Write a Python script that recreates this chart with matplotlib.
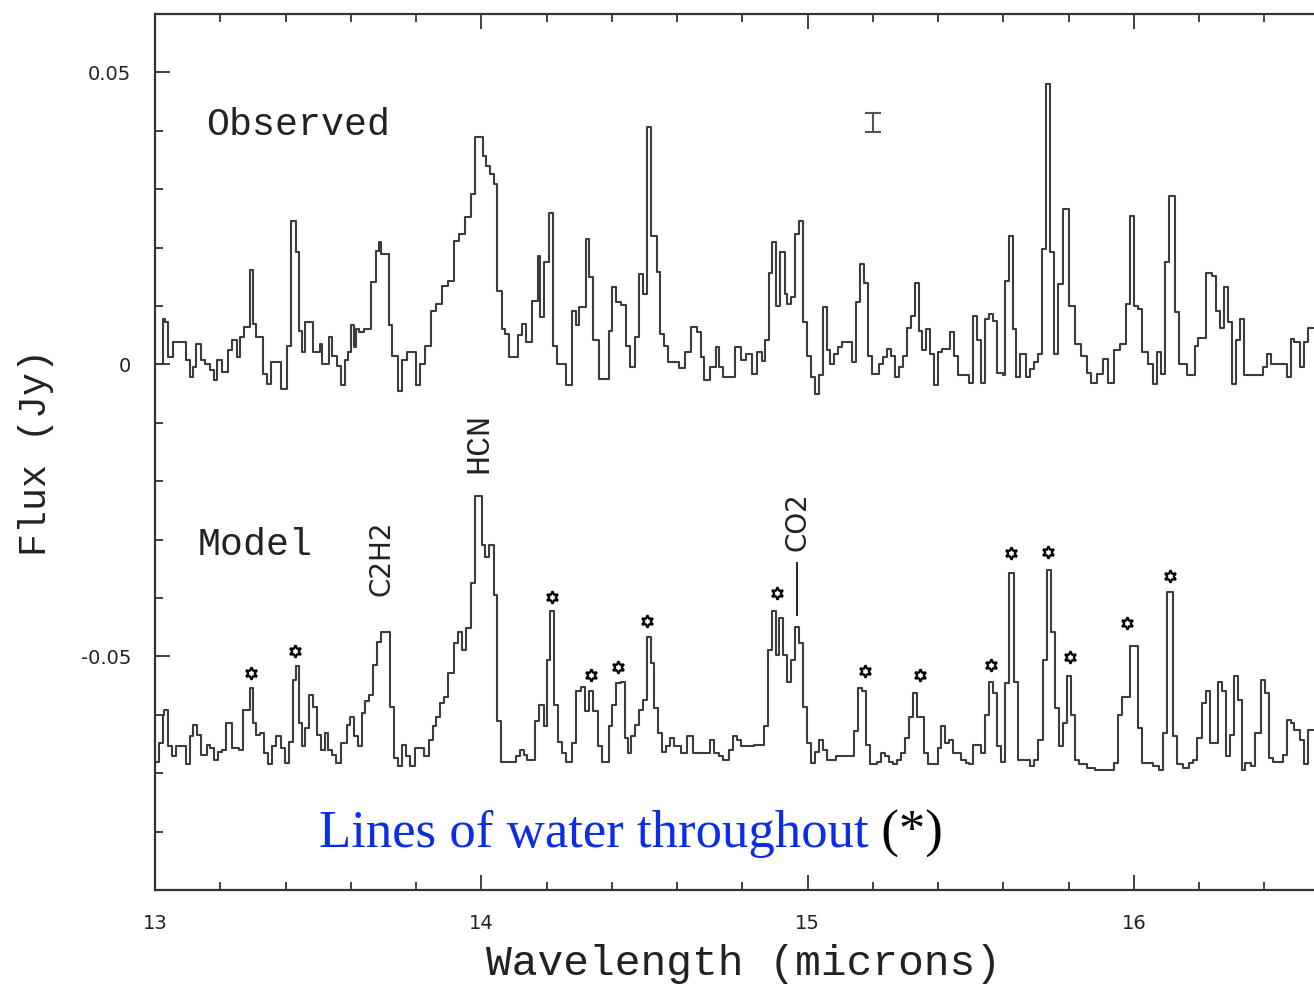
import numpy as np
import matplotlib
matplotlib.use('Agg')
import matplotlib.pyplot as plt
from matplotlib.ticker import MultipleLocator, FixedLocator, FixedFormatter

# observed spectrum: step starts (microns) and flux (mJy)
obs_wl = [13.000, 13.024, 13.032, 13.041, 13.055, 13.094, 13.106, 13.117, 13.126, 13.141,
          13.153, 13.170, 13.182, 13.191, 13.205, 13.223, 13.235, 13.252, 13.262, 13.273,
          13.290, 13.299, 13.311, 13.332, 13.344, 13.356, 13.387, 13.405, 13.416, 13.431,
          13.440, 13.452, 13.461, 13.485, 13.505, 13.513, 13.534, 13.543, 13.557, 13.569,
          13.581, 13.592, 13.602, 13.610, 13.616, 13.625, 13.639, 13.663, 13.677, 13.686,
          13.693, 13.716, 13.727, 13.745, 13.757, 13.771, 13.801, 13.813, 13.827, 13.845,
          13.862, 13.880, 13.897, 13.915, 13.933, 13.950, 13.968, 13.980, 14.005, 14.015,
          14.026, 14.038, 14.048, 14.062, 14.073, 14.085, 14.114, 14.126, 14.138, 14.155,
          14.173, 14.181, 14.191, 14.208, 14.220, 14.232, 14.261, 14.279, 14.290, 14.299,
          14.320, 14.331, 14.343, 14.361, 14.390, 14.402, 14.414, 14.428, 14.443, 14.455,
          14.472, 14.484, 14.496, 14.507, 14.519, 14.537, 14.548, 14.560, 14.572, 14.607,
          14.625, 14.642, 14.660, 14.672, 14.683, 14.701, 14.719, 14.730, 14.742, 14.777,
          14.795, 14.812, 14.830, 14.846, 14.860, 14.870, 14.882, 14.890, 14.902, 14.914,
          14.930, 14.938, 14.950, 14.962, 14.974, 14.986, 14.998, 15.010, 15.022, 15.034,
          15.046, 15.058, 15.070, 15.082, 15.094, 15.106, 15.136, 15.148, 15.160, 15.172,
          15.184, 15.196, 15.220, 15.232, 15.244, 15.256, 15.268, 15.280, 15.292, 15.304,
          15.316, 15.328, 15.340, 15.352, 15.364, 15.376, 15.388, 15.400, 15.412, 15.436,
          15.448, 15.460, 15.496, 15.508, 15.520, 15.532, 15.544, 15.556, 15.568, 15.580,
          15.598, 15.604, 15.616, 15.628, 15.640, 15.652, 15.670, 15.682, 15.694, 15.706,
          15.718, 15.730, 15.742, 15.754, 15.766, 15.784, 15.802, 15.820, 15.838, 15.856,
          15.868, 15.886, 15.904, 15.922, 15.940, 15.958, 15.976, 15.988, 16.000, 16.012,
          16.024, 16.042, 16.060, 16.072, 16.084, 16.096, 16.108, 16.126, 16.138, 16.162,
          16.186, 16.198, 16.222, 16.240, 16.252, 16.264, 16.276, 16.288, 16.300, 16.312,
          16.324, 16.336, 16.396, 16.408, 16.420, 16.468, 16.480, 16.492, 16.510, 16.522,
          16.534, 16.560]
obs_mjy = [0.0, 7.8, 7.2, 1.2, 3.8, 0.7, -2.2, -0.5, 3.5, 0.7,
           0.1, -1.0, -2.7, 0.7, -1.3, 2.4, 4.1, 1.2, 4.7, 6.4,
           16.1, 6.9, 4.7, -1.6, -3.3, 0.4, -4.2, 3.2, 24.6, 19.2,
           5.8, 2.1, 7.2, 2.1, 3.5, 0.1, 4.7, 1.5, -0.2, -3.6,
           0.7, 2.1, 6.7, 3.0, 6.1, 5.5, 6.1, 14.1, 19.5, 20.9,
           18.9, 6.7, 1.5, -4.5, 0.7, 2.1, -3.6, 0.1, 3.2, 9.2,
           10.4, 13.5, 14.3, 21.2, 22.3, 25.2, 29.2, 38.9, 35.7, 34.0,
           32.6, 30.9, 12.6, 6.1, 5.2, 1.2, 5.0, 6.9, 3.8, 10.9,
           18.6, 8.1, 17.5, 25.9, 3.2, 0.1, -3.6, 9.2, 6.7, 9.8,
           21.5, 14.9, 4.1, -2.5, 5.8, 13.2, 10.6, 10.1, 3.2, -0.5,
           4.7, 15.5, 12.1, 40.6, 22.0, 15.8, 5.2, 3.2, 0.4, -0.7,
           2.1, 6.4, 5.5, 1.2, -2.7, -0.5, 3.0, -0.5, -2.2, 3.0,
           0.7, 1.8, -1.6, 2.1, 0.6, 4.1, 15.7, 20.9, 10.0, 19.2,
           12.0, 10.3, 11.5, 22.3, 24.6, 7.2, 1.5, -2.2, -5.1, -1.9,
           9.8, 2.4, 0.1, 1.8, 2.9, 3.8, 0.4, 10.6, 17.2, 14.0,
           1.5, -1.6, 0.1, 1.2, 2.6, 1.5, -2.2, -0.5, 1.5, 6.3,
           8.3, 14.0, 5.8, 2.4, 6.1, 1.8, -3.6, 2.1, 2.6, 5.5,
           1.5, -1.9, -3.1, 8.3, 4.1, -3.1, 7.8, 8.6, 7.5, -1.4,
           -1.9, 14.3, 22.0, 6.1, -2.2, 1.8, -2.2, -0.8, 0.4, 1.8,
           19.7, 48.0, 19.2, 1.8, 13.8, 26.6, 10.0, 3.5, 1.5, -1.4,
           -3.1, -1.6, 0.9, -3.1, 2.4, 3.5, 10.3, 25.4, 10.0, 9.5,
           2.1, 0.1, -3.3, 2.1, -1.6, 17.5, 28.9, 8.9, 0.1, -1.9,
           3.2, 4.6, 15.7, 15.2, 9.2, 6.3, 13.2, 7.2, -3.3, 4.1,
           7.8, -1.9, -0.5, 1.8, 0.1, -2.2, 4.3, 3.8, -0.5, 3.8,
           6.3, 6.3]

# model spectrum (as plotted, offset below the observed one), mJy
mod_wl = [13.000, 13.012, 13.024, 13.029, 13.041, 13.053, 13.065, 13.094, 13.106, 13.117,
          13.129, 13.141, 13.158, 13.170, 13.182, 13.194, 13.205, 13.217, 13.235, 13.258,
          13.270, 13.290, 13.299, 13.311, 13.323, 13.334, 13.346, 13.358, 13.370, 13.387,
          13.399, 13.411, 13.422, 13.432, 13.440, 13.449, 13.461, 13.473, 13.485, 13.496,
          13.508, 13.520, 13.531, 13.543, 13.555, 13.569, 13.587, 13.598, 13.610, 13.622,
          13.633, 13.645, 13.657, 13.669, 13.680, 13.692, 13.719, 13.733, 13.745, 13.757,
          13.768, 13.780, 13.798, 13.825, 13.839, 13.851, 13.862, 13.874, 13.886, 13.897,
          13.915, 13.930, 13.942, 13.954, 13.968, 13.980, 14.001, 14.012, 14.024, 14.038,
          14.048, 14.059, 14.106, 14.118, 14.130, 14.141, 14.165, 14.177, 14.191, 14.200,
          14.212, 14.224, 14.235, 14.247, 14.259, 14.279, 14.290, 14.306, 14.317, 14.329,
          14.343, 14.357, 14.369, 14.390, 14.402, 14.414, 14.428, 14.439, 14.449, 14.458,
          14.472, 14.484, 14.496, 14.507, 14.519, 14.529, 14.543, 14.554, 14.566, 14.578,
          14.590, 14.613, 14.631, 14.648, 14.701, 14.713, 14.730, 14.742, 14.760, 14.771,
          14.783, 14.795, 14.812, 14.836, 14.866, 14.878, 14.890, 14.902, 14.912, 14.926,
          14.938, 14.950, 14.962, 14.974, 14.986, 14.998, 15.010, 15.022, 15.034, 15.046,
          15.058, 15.088, 15.142, 15.154, 15.166, 15.178, 15.190, 15.214, 15.226, 15.238,
          15.250, 15.262, 15.274, 15.286, 15.298, 15.310, 15.322, 15.334, 15.358, 15.370,
          15.400, 15.410, 15.422, 15.434, 15.446, 15.470, 15.484, 15.496, 15.508, 15.532,
          15.544, 15.556, 15.568, 15.582, 15.594, 15.606, 15.618, 15.634, 15.646, 15.682,
          15.694, 15.706, 15.722, 15.734, 15.746, 15.758, 15.770, 15.784, 15.796, 15.808,
          15.820, 15.832, 15.856, 15.880, 15.916, 15.940, 15.952, 15.964, 15.988, 16.012,
          16.026, 16.060, 16.078, 16.090, 16.102, 16.120, 16.132, 16.150, 16.168, 16.180,
          16.192, 16.210, 16.222, 16.234, 16.258, 16.270, 16.282, 16.294, 16.306, 16.318,
          16.330, 16.342, 16.360, 16.372, 16.390, 16.402, 16.414, 16.426, 16.456, 16.468,
          16.480, 16.492, 16.510, 16.522, 16.534, 16.560]
mod_mjy = [-68.0, -64.8, -60.0, -59.1, -65.4, -67.1, -65.4, -68.5, -63.7, -61.7,
           -63.4, -66.8, -65.1, -65.7, -67.7, -66.3, -66.0, -61.4, -65.7, -66.0,
           -59.1, -55.4, -61.4, -63.4, -63.1, -66.6, -68.5, -65.4, -63.7, -65.7,
           -68.3, -64.6, -54.0, -51.7, -61.4, -65.4, -62.3, -56.6, -58.6, -63.4,
           -66.0, -63.1, -66.0, -66.8, -68.3, -64.8, -61.7, -60.3, -63.7, -65.4,
           -59.7, -57.7, -56.6, -51.4, -47.5, -45.8, -58.6, -67.4, -68.8, -65.1,
           -67.1, -68.8, -65.7, -67.1, -64.3, -62.0, -60.3, -58.0, -56.9, -52.9,
           -47.7, -45.8, -48.9, -45.2, -37.5, -22.6, -30.9, -32.9, -30.9, -39.5,
           -61.1, -68.0, -67.1, -66.0, -66.8, -67.7, -61.1, -58.3, -62.0, -50.6,
           -42.3, -58.3, -64.6, -66.6, -68.1, -64.8, -56.0, -55.2, -59.4, -56.0,
           -59.4, -65.4, -68.0, -62.0, -58.3, -54.6, -54.3, -64.0, -66.6, -63.7,
           -61.7, -59.1, -57.4, -46.6, -51.2, -58.9, -63.1, -66.3, -65.4, -64.0,
           -65.4, -66.6, -63.7, -66.6, -64.3, -66.6, -67.1, -67.7, -66.0, -63.7,
           -64.3, -65.4, -65.4, -65.1, -62.0, -48.9, -42.3, -49.7, -43.5, -49.7,
           -54.3, -50.6, -44.9, -47.7, -58.6, -64.8, -68.3, -66.3, -64.3, -66.0,
           -67.7, -67.1, -62.8, -55.4, -56.0, -65.1, -68.5, -68.0, -66.6, -67.1,
           -68.0, -68.5, -67.7, -66.6, -64.0, -60.3, -56.3, -60.3, -66.6, -68.5,
           -65.7, -62.0, -64.8, -64.3, -66.6, -67.7, -68.3, -68.5, -65.1, -66.6,
           -60.0, -54.3, -56.3, -65.4, -68.0, -54.6, -35.7, -54.3, -67.7, -68.8,
           -67.7, -64.3, -50.6, -35.2, -45.8, -58.9, -65.4, -61.4, -53.4, -60.0,
           -67.7, -68.5, -69.1, -69.4, -69.5, -68.3, -60.0, -56.9, -48.3, -62.3,
           -68.3, -68.8, -69.4, -63.1, -39.0, -63.7, -68.5, -69.1, -68.3, -67.7,
           -64.0, -58.0, -56.0, -64.8, -54.3, -56.0, -67.1, -63.4, -53.4, -57.4,
           -69.4, -68.3, -68.8, -63.1, -54.0, -56.3, -67.4, -68.0, -66.8, -60.9,
           -61.4, -62.6, -64.3, -68.5, -62.6, -62.6]

# water lines marked with stars
star_wl = [13.295, 13.430, 14.218, 14.337, 14.420, 14.509, 14.907, 15.177,
           15.345, 15.563, 15.624, 15.738, 15.805, 15.980, 16.112]
star_mjy = [-52.8, -49.1, -39.8, -53.2, -51.8, -43.9, -39.1, -52.5,
            -53.2, -51.5, -32.3, -32.1, -50.1, -44.3, -36.2]

# molecule labels
mol_names = ['C2H2', 'HCN', 'CO2']
mol_wl = [13.693, 13.994, 14.968]
mol_mjy = [-33.2, -13.5, -27.0]

# typical error bar
err_wl = 15.199
err_mjy = 41.45
err_size = 1.65

mono = 'Liberation Mono'
line_col = '#3c3c3c'

fig = plt.figure(figsize=(13.14, 9.9), dpi=100)
ax = fig.add_axes([155 / 1314, 100 / 990, 1159 / 1314, 876 / 990])

ax.step(obs_wl, np.array(obs_mjy) / 1000, where='post', color=line_col, lw=1.5)
ax.step(mod_wl, np.array(mod_mjy) / 1000, where='post', color=line_col, lw=1.5)

ax.plot(star_wl, np.array(star_mjy) / 1000, ls='none', marker=(6, 1, 0), ms=9,
        mfc='white', mec='black', mew=1.6)

ax.errorbar([err_wl], [err_mjy / 1000], yerr=[err_size / 1000], fmt='none',
            ecolor='#555555', elinewidth=1.5, capsize=5.5, capthick=1.5)

# molecule labels
ax.text(mol_wl[0], mol_mjy[0] / 1000, mol_names[0], rotation=90, ha='center', va='center',
        fontsize=20, family='DejaVu Sans', color='#222222')
ax.text(mol_wl[1], mol_mjy[1] / 1000, mol_names[1], rotation=90, ha='center', va='center',
        fontsize=24, family=mono, color='#222222')
ax.text(mol_wl[2], mol_mjy[2] / 1000, mol_names[2], rotation=90, ha='center', va='center',
        fontsize=20, family='DejaVu Sans', color='#222222')
ax.plot([mol_wl[2], mol_wl[2]], [-0.0340, -0.0429], color='#222222', lw=1.4)

ax.text(13.156, 0.0393, 'Observed', fontsize=27.5, family=mono, va='baseline', color='#222222')
ax.text(13.130, -0.0326, 'Model', fontsize=27.5, family=mono, va='baseline', color='#222222')

t1 = ax.text(13.502, -0.0827, 'Lines of water throughout', fontsize=38,
             family='Liberation Serif', color='#0b2de8', va='baseline')
ax.annotate(' (*)', xy=(1, 0), xycoords=t1, va='bottom', ha='left', fontsize=38,
            family='Liberation Serif', color='black')

ax.set_xlim(13, 16.552)
ax.set_ylim(-0.09, 0.06)

ax.xaxis.set_major_locator(FixedLocator([13, 14, 15, 16]))
ax.xaxis.set_major_formatter(FixedFormatter(['13', '14', '15', '16']))
ax.xaxis.set_minor_locator(MultipleLocator(0.2))
ax.yaxis.set_major_locator(FixedLocator([-0.05, 0, 0.05]))
ax.yaxis.set_major_formatter(FixedFormatter(['-0.05', '0', '0.05']))
ax.yaxis.set_minor_locator(MultipleLocator(0.01))

ax.tick_params(which='both', direction='in', top=True, right=False, color='#333333',
               width=1.3)
ax.tick_params(which='major', length=11, labelsize=14, pad=17)
ax.tick_params(which='minor', length=5.5)
for lab in ax.get_xticklabels() + ax.get_yticklabels():
    lab.set_family('DejaVu Sans')
    lab.set_color('#222222')

ax.spines['right'].set_visible(False)
for s in ['left', 'bottom', 'top']:
    ax.spines[s].set_linewidth(1.6)
    ax.spines[s].set_color('#333333')

ax.set_xlabel('Wavelength (microns)', fontsize=31, family=mono, color='#222222')
ax.set_ylabel('Flux (Jy)', fontsize=27.5, family=mono, color='#222222')
ax.xaxis.set_label_coords((743 - 155) / 1159, -(944 - 890) / 876)
ax.yaxis.set_label_coords(-(155 - 54) / 1159, 0.5)

fig.savefig('out.png', dpi=100)
